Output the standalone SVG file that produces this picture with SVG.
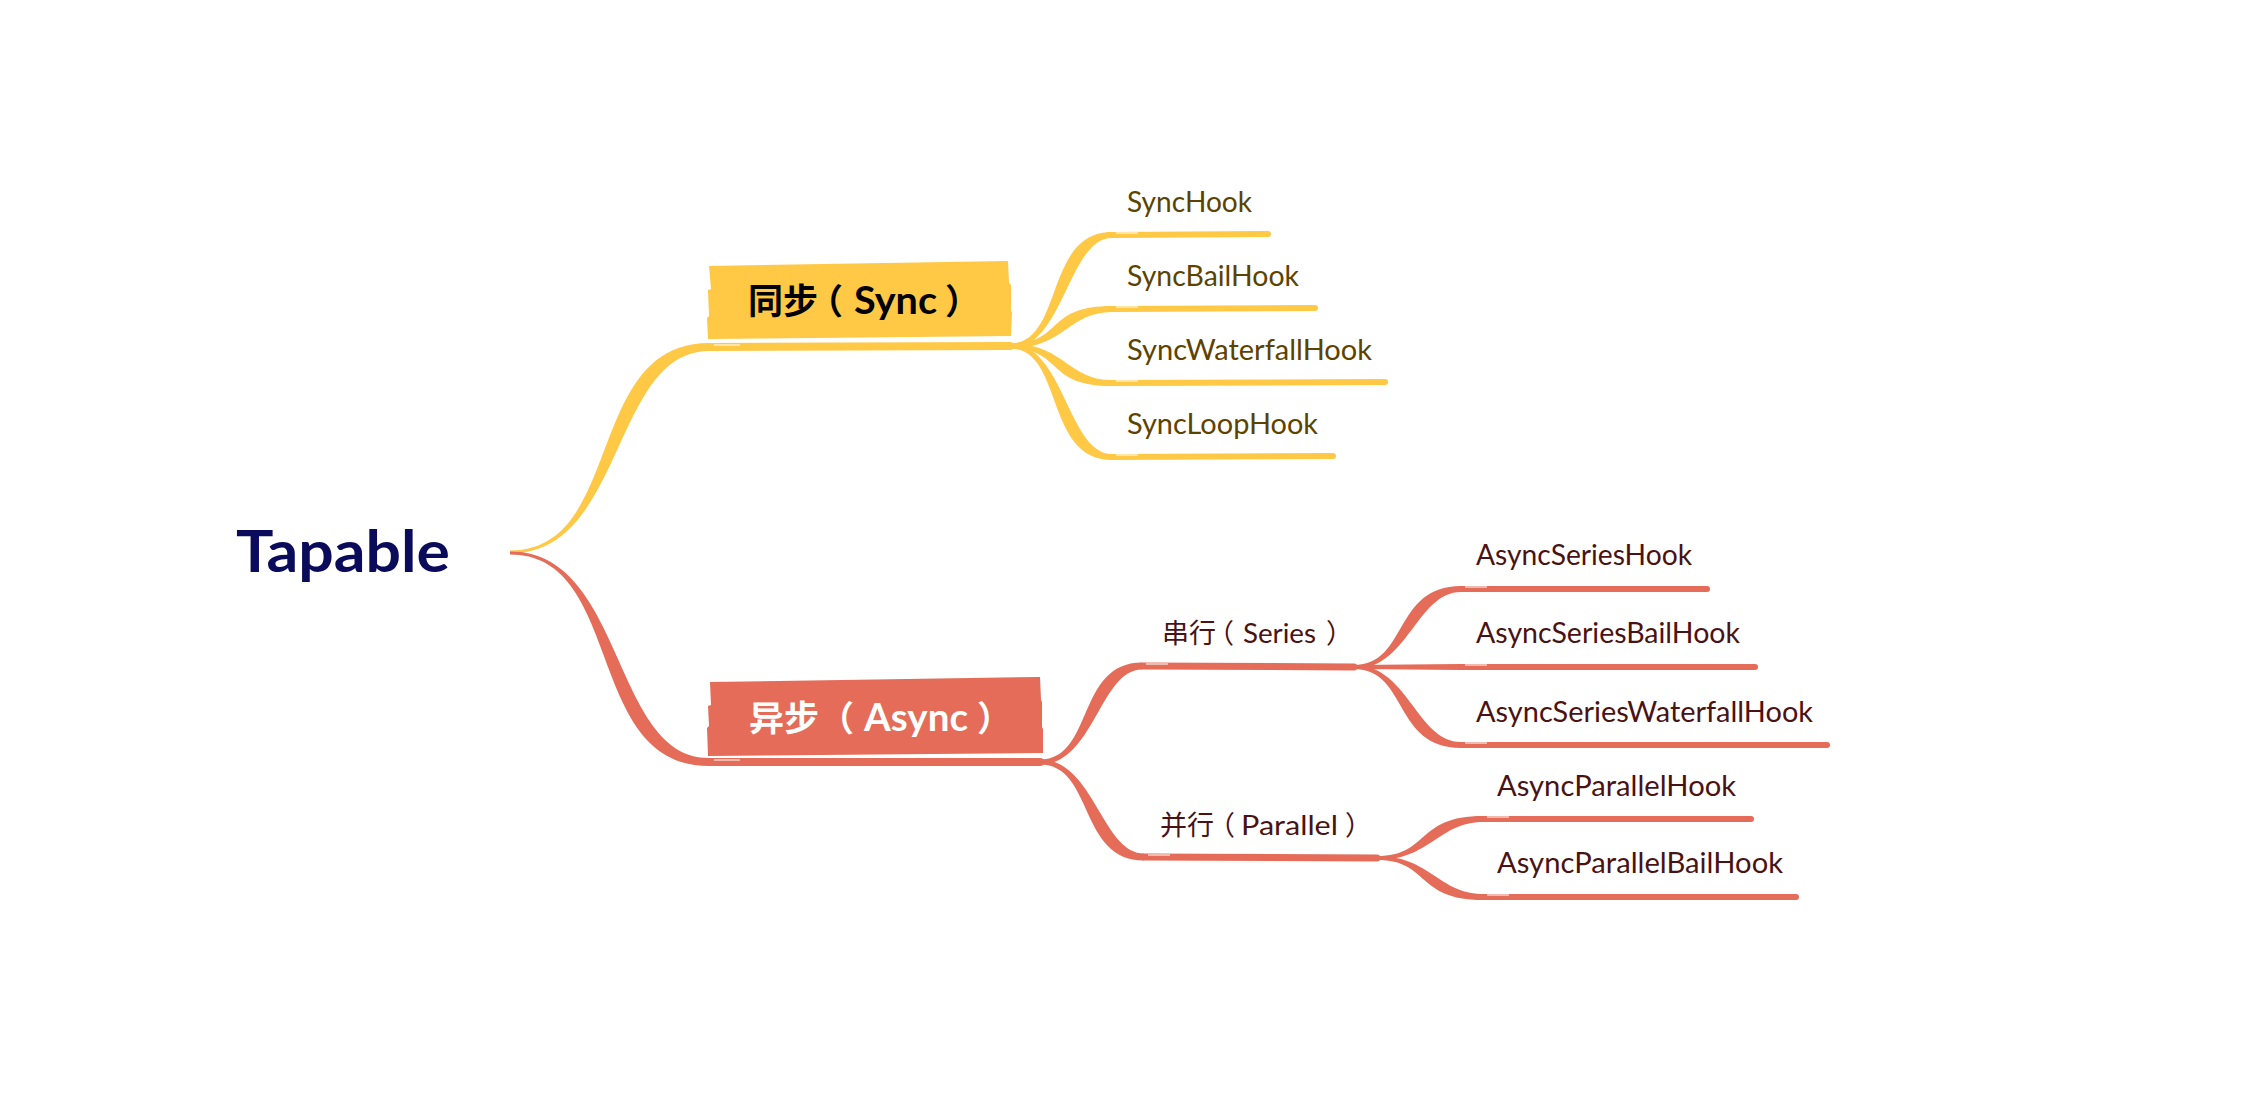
<svg xmlns="http://www.w3.org/2000/svg" width="2246" height="1116" viewBox="0 0 2246 1116">
<style>
.y{stroke:#FFC845;fill:none;stroke-linecap:round}
.r{stroke:#E46C58;fill:none;stroke-linecap:round}
.fy{fill:#FFC845}
.fr{fill:#E46C58}
.w{stroke:#ffffff;stroke-width:1.5;opacity:0.7;fill:none}
.root{font-family:Lato,"Noto Sans",sans-serif;font-weight:700;font-size:58px;fill:#0B0B5C}
.main{font-family:Lato,"Noto Sans CJK SC",sans-serif;font-weight:700;font-size:35px}
.lat{font-size:39px}
.sub{font-family:Lato,"Noto Sans CJK SC",sans-serif;font-size:27px;fill:#4A1212}
.sh{font-family:Lato,"Noto Sans",sans-serif;font-size:28px;fill:#5C4300}
.ah{font-family:Lato,"Noto Sans",sans-serif;font-size:28px;fill:#4A1212}
</style>
<rect width="2246" height="1116" fill="#ffffff"/>
<g id="connectors">
  <path class="fy" d="M510,550.5 C625,550.5 584,343 709,343 L709,351 C612,351 625,553.5 510,553.5 Z"/>
  <path class="fr" d="M510,551.5 C625,551.5 612,758 709,758 L709,766 C584,766 625,554.5 510,554.5 Z"/>
  <path class="fy" d="M1010,343.5 C1064,343.5 1044,232 1112,232 L1112,238 C1068,238 1064,348.5 1010,348.5 Z"/>
  <path class="fy" d="M1010,343.5 C1064,343.5 1044,306 1112,306 L1112,312 C1068,312 1064,348.5 1010,348.5 Z"/>
  <path class="fy" d="M1010,343.5 C1064,343.5 1068,380 1112,380 L1112,386 C1044,386 1064,348.5 1010,348.5 Z"/>
  <path class="fy" d="M1010,343.5 C1064,343.5 1068,454 1112,454 L1112,460 C1044,460 1064,348.5 1010,348.5 Z"/>
  <path class="fr" d="M1040,759.5 C1094,759.5 1076,662.5 1142,662.5 L1142,669.5 C1100,669.5 1094,764.5 1040,764.5 Z"/>
  <path class="fr" d="M1040,759.5 C1094,759.5 1102,853.5 1144,853.5 L1144,860.5 C1078,860.5 1094,764.5 1040,764.5 Z"/>
  <path class="fr" d="M1354,665 C1408,665 1393,586 1461,586 L1461,592 C1417,592 1408,669 1354,669 Z"/>
  <path class="fr" d="M1354,665 L1461,664 L1461,670 L1354,669 Z"/>
  <path class="fr" d="M1354,665 C1408,665 1417,742 1461,742 L1461,748 C1393,748 1408,669 1354,669 Z"/>
  <path class="fr" d="M1377,856 C1430,856 1415,816 1483,816 L1483,822 C1439,822 1430,860 1377,860 Z"/>
  <path class="fr" d="M1377,856 C1430,856 1439,894 1483,894 L1483,900 C1415,900 1430,860 1377,860 Z"/>
</g>
<g id="root">
  <text class="root" x="236" y="572" textLength="214" lengthAdjust="spacingAndGlyphs">Tapable</text>
</g>
<g id="sync">
  <polygon fill="#FFC845" points="709,266 1008,261 1009,283 1011,285 1011,311 1012,312 1011,336 708,339 707,318 709,316 708,290 711,289"/>
  <path class="y" stroke-width="8" d="M709,347 L1010,346"/>
  <path class="w" d="M714,345 L740,345"/>
  <text class="main" y="314" fill="#000000"><tspan x="748" dx="0 0 -10">同步（</tspan><tspan class="lat" x="854" textLength="83" lengthAdjust="spacingAndGlyphs">Sync</tspan><tspan x="945">）</tspan></text>
</g>
<g id="async">
  <polygon fill="#E46C58" points="710,682 1040,677 1041,700 1042,702 1042,727 1043,729 1043,753 708,756 707,728 709,726 708,706 711,705"/>
  <path class="r" stroke-width="8" d="M709,762 L1040,762"/>
  <path class="w" d="M714,760 L740,760"/>
  <text class="main" y="731" fill="#ffffff"><tspan x="749">异步（</tspan><tspan class="lat" x="864" textLength="104" lengthAdjust="spacingAndGlyphs">Async</tspan><tspan x="977">）</tspan></text>
</g>
<g id="series">
  <path class="r" stroke-width="7" d="M1142,666 L1354,667"/>
  <path class="w" d="M1146,664 L1168,664"/>
  <text class="sub" y="643"><tspan x="1162" dx="0 0 -9">串行（</tspan><tspan x="1243" textLength="73" lengthAdjust="spacingAndGlyphs">Series</tspan><tspan x="1326">）</tspan></text>
</g>
<g id="parallel">
  <path class="r" stroke-width="7" d="M1144,857 L1377,858"/>
  <path class="w" d="M1148,855 L1170,855"/>
  <text class="sub" y="835"><tspan x="1160" dx="0 0 -6">并行（</tspan><tspan x="1241" textLength="97" lengthAdjust="spacingAndGlyphs">Parallel</tspan><tspan x="1345">）</tspan></text>
</g>
<g id="synchook">
  <path class="y" stroke-width="6" d="M1112,235 L1268,234"/>
  <path class="w" d="M1116,233 L1138,233"/>
  <text class="sh" x="1127" y="212" textLength="125" lengthAdjust="spacingAndGlyphs">SyncHook</text>
</g>
<g id="syncbailhook">
  <path class="y" stroke-width="6" d="M1112,309 L1315,308"/>
  <path class="w" d="M1116,307 L1138,307"/>
  <text class="sh" x="1127" y="286" textLength="172" lengthAdjust="spacingAndGlyphs">SyncBailHook</text>
</g>
<g id="syncwaterfallhook">
  <path class="y" stroke-width="6" d="M1112,383 L1385,382"/>
  <path class="w" d="M1116,381 L1138,381"/>
  <text class="sh" x="1127" y="360" textLength="245" lengthAdjust="spacingAndGlyphs">SyncWaterfallHook</text>
</g>
<g id="syncloophook">
  <path class="y" stroke-width="6" d="M1112,457 L1333,456"/>
  <path class="w" d="M1116,455 L1138,455"/>
  <text class="sh" x="1127" y="434" textLength="191" lengthAdjust="spacingAndGlyphs">SyncLoopHook</text>
</g>
<g id="asyncserieshook">
  <path class="r" stroke-width="6" d="M1461,589 L1707,589"/>
  <path class="w" d="M1465,587 L1487,587"/>
  <text class="ah" x="1476" y="565" textLength="216" lengthAdjust="spacingAndGlyphs">AsyncSeriesHook</text>
</g>
<g id="asyncseriesbailhook">
  <path class="r" stroke-width="6" d="M1461,667 L1755,667"/>
  <path class="w" d="M1465,665 L1487,665"/>
  <text class="ah" x="1476" y="643" textLength="264" lengthAdjust="spacingAndGlyphs">AsyncSeriesBailHook</text>
</g>
<g id="asyncserieswaterfallhook">
  <path class="r" stroke-width="6" d="M1461,745 L1827,745"/>
  <path class="w" d="M1465,743 L1487,743"/>
  <text class="ah" x="1476" y="722" textLength="337" lengthAdjust="spacingAndGlyphs">AsyncSeriesWaterfallHook</text>
</g>
<g id="asyncparallelhook">
  <path class="r" stroke-width="6" d="M1483,819 L1751,819"/>
  <path class="w" d="M1487,817 L1509,817"/>
  <text class="ah" x="1497" y="796" textLength="239" lengthAdjust="spacingAndGlyphs">AsyncParallelHook</text>
</g>
<g id="asyncparallelbailhook">
  <path class="r" stroke-width="6" d="M1483,897 L1796,897"/>
  <path class="w" d="M1487,895 L1509,895"/>
  <text class="ah" x="1497" y="873" textLength="286" lengthAdjust="spacingAndGlyphs">AsyncParallelBailHook</text>
</g>
</svg>
